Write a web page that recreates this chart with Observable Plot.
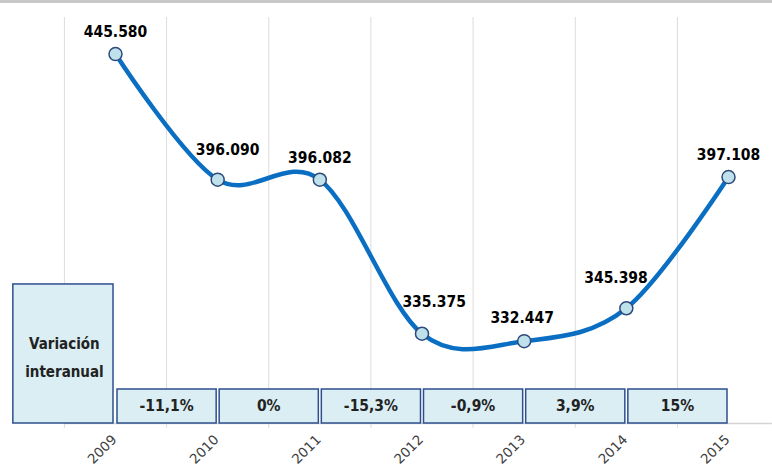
<!DOCTYPE html>
<html><head><meta charset="utf-8">
<script src="https://cdn.jsdelivr.net/npm/d3@7"></script>
<script src="https://cdn.jsdelivr.net/npm/@observablehq/plot@0.6"></script>
<style>html,body{margin:0;padding:0;background:#fff;overflow:hidden}</style>
</head><body><div id="chart"></div>
<script>
const years = [2009, 2010, 2011, 2012, 2013, 2014, 2015];
const values = [445580, 396090, 396082, 335375, 332447, 345398, 397108];
const variationTitle = "Variación\ninteranual";
const variations = [-11.1, 0, -15.3, -0.9, 3.9, 15];

const series = years.map((year, i) => ({year, value: values[i]}));
const intervals = variations.map((v, i) => ({from: years[i], to: years[i + 1], v}));
const es = d3.formatLocale({decimal: ",", thousands: ".", grouping: [3], currency: ["", " €"]});
const fmtValue = es.format(",d");
const fmtPct = v => (Number.isInteger(v) ? String(v) : v.toFixed(1).replace(".", ",")) + "%";

// layout constants (in y-scale units)
const Y_MIN = 300000, Y_MAX = 460000;
const BOX_TOP = 313400, TITLE_TOP = 354800;
const gridAt = years.map(y => y - 0.5);
const PX_PER_YEAR = (728 - 115) / 6, PX_PER_UNIT = (423 - 17) / (Y_MAX - Y_MIN);

// push each value label away from the side where the line rises above the point
const labelNudge = series.map((d, i) => {
  const riseL = i > 0 ? Math.max(0, values[i - 1] - d.value) : 0;
  const riseR = i < values.length - 1 ? Math.max(0, values[i + 1] - d.value) : 0;
  return 0.2 * (riseL - riseR) / 1000; // px
});

const boxFill = "#DAEEF3", boxStroke = "#2E4F8E";
const boldFont = "'DejaVu Sans Condensed', 'DejaVu Sans', sans-serif";

const chart = Plot.plot({
  width: 772,
  height: 466,
  marginTop: 17,
  marginBottom: 43,
  marginLeft: 0,
  marginRight: 0,
  style: {fontFamily: "'DejaVu Sans', Verdana, sans-serif", background: "#fff", overflow: "hidden"},
  x: {type: "linear", domain: [2009, 2015], range: [115, 728], axis: null},
  y: {domain: [Y_MIN, Y_MAX], axis: null},
  marks: [
    Plot.ruleY([Y_MAX], {dy: -16, stroke: "#c8c8c8", strokeWidth: 3}),
    Plot.ruleX(gridAt, {y1: Y_MAX, y2: Y_MIN, insetBottom: -5, stroke: "#dcdcdc", strokeWidth: 1}),
    Plot.ruleY([Y_MIN], {x1: 2008.5, x2: 2015.43, stroke: "#d4d4d4", strokeWidth: 1.5}),
    Plot.rect([{from: years[0] - 1, to: years[0]}], {x1: "from", x2: "to", y1: Y_MIN, y2: TITLE_TOP, insetRight: 2, fill: boxFill, stroke: boxStroke, strokeWidth: 1.5}),
    Plot.text([variationTitle], {x: years[0] - 0.5, y: (Y_MIN + TITLE_TOP) / 2, text: d => d, lineHeight: 1.85, fontSize: 15, fontWeight: "bold", fontFamily: boldFont, fill: "#222"}),
    Plot.rect(intervals, {x1: "from", x2: "to", y1: Y_MIN, y2: BOX_TOP, insetLeft: 2, insetRight: 1, fill: boxFill, stroke: boxStroke, strokeWidth: 1.5}),
    Plot.text(intervals, {x: d => (d.from + d.to) / 2, y: (Y_MIN + BOX_TOP) / 2, text: d => fmtPct(d.v), fontSize: 15.5, fontWeight: "bold", fontFamily: boldFont, fill: "#222"}),
    Plot.line(series, {x: "year", y: "value", curve: "cardinal", stroke: "#0A6FC2", strokeWidth: 4.5, strokeLinecap: "round"}),
    Plot.dot(series, {x: "year", y: "value", r: 6.5, fill: "#BFE1EC", stroke: "#2E4A7A", strokeWidth: 1.5}),
    Plot.text(series, {
      x: (d, i) => d.year + labelNudge[i] / PX_PER_YEAR,
      y: (d, i) => d.value + Math.abs(labelNudge[i]) * 0.8 / PX_PER_UNIT,
      text: d => fmtValue(d.value), lineAnchor: "bottom", dy: -17,
      fontSize: 15.5, fontWeight: "bold", fontFamily: boldFont, fill: "#000"
    }),
    Plot.text(years, {x: d => d, frameAnchor: "bottom", text: d => String(d), rotate: -45, textAnchor: "end", dx: 2, dy: 17, fontSize: 13.5, fill: "#404040"})
  ]
});
document.getElementById("chart").append(chart);
</script>
</body></html>
